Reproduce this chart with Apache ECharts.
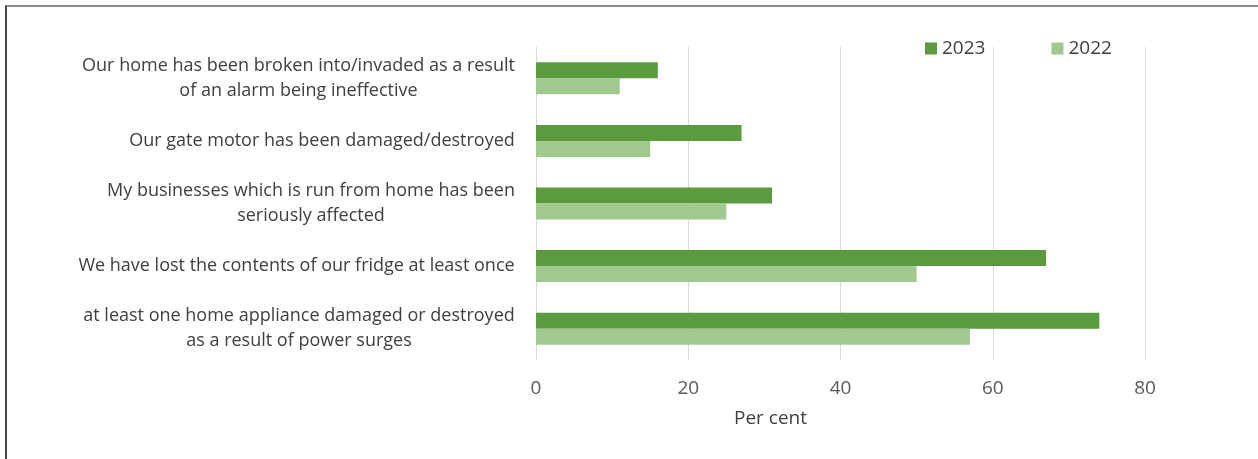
<!DOCTYPE html>
<html>
<head>
<meta charset="utf-8">
<script src="https://cdn.jsdelivr.net/npm/echarts@6/dist/echarts.min.js"></script>
<style>
html,body{margin:0;padding:0;background:#fff;}
#frame{position:absolute;left:5px;top:5px;width:1300px;height:500px;border-left:2px solid #444;border-top:2px solid #8a8a8a;}
#chart{position:absolute;left:0;top:0;width:1258px;height:459px;}
</style>
</head>
<body>
<div id="frame"></div>
<div id="chart"></div>
<script>
var categories = [
  "Our home has been broken into/invaded as a result\nof an alarm being ineffective",
  "Our gate motor has been damaged/destroyed",
  "My businesses which is run from home has been\nseriously affected",
  "We have lost the contents of our fridge at least once",
  "at least one home appliance damaged or destroyed\nas a result of power surges"
];
var seriesNames = ["2023", "2022"];
var values2023 = [16, 27, 31, 67, 74];
var values2022 = [11, 15, 25, 50, 57];
var xTicks = [0, 20, 40, 60, 80];
var xAxisTitle = "Per cent";

var FONT = "Open Sans";
var labelSize = 18;
var cv = document.createElement("canvas").getContext("2d");
cv.font = labelSize + "px '" + FONT + "'";
var rich = {};
var fmtMap = {};
categories.forEach(function (c, i) {
  var lines = c.split("\n");
  var w = 0;
  lines.forEach(function (l) { w = Math.max(w, cv.measureText(l).width); });
  rich["l" + i] = { width: Math.ceil(w) + 2, align: "center", fontFamily: FONT, fontSize: labelSize, color: "#404040", lineHeight: 25 };
  fmtMap[c] = lines.map(function (l) { return "{l" + i + "|" + l + "}"; }).join("\n");
});

var chart = echarts.init(document.getElementById("chart"), null, { renderer: "canvas" });
chart.setOption({
  backgroundColor: "transparent",
  animation: false,
  color: ["#5B9A3F", "#A1C98D"],
  legend: {
    data: seriesNames,
    left: 920,
    top: 34,
    itemWidth: 12,
    itemHeight: 12,
    itemGap: 66,
    icon: "rect",
    textStyle: { fontFamily: FONT, fontSize: 19, color: "#404040" }
  },
  grid: { left: 536, right: 113, top: 47, bottom: 99, containLabel: false },
  xAxis: {
    type: "value",
    min: 0,
    max: 80,
    interval: 20,
    axisLine: { show: false },
    axisTick: { show: false },
    splitLine: { show: true, lineStyle: { color: "#d9d9d9", width: 1 } },
    axisLabel: {
      margin: 19,
      fontFamily: FONT,
      fontSize: 19,
      color: "#595959",
      formatter: function (v) { return xTicks.indexOf(v) >= 0 ? String(v) : ""; }
    },
    name: xAxisTitle,
    nameLocation: "middle",
    nameGap: 49,
    nameTextStyle: { fontFamily: FONT, fontSize: 19, color: "#404040", padding: [0, 140, 0, 0] }
  },
  yAxis: {
    type: "category",
    inverse: true,
    data: categories,
    axisLine: { show: false },
    axisTick: { show: false },
    axisLabel: {
      margin: 20,
      formatter: function (v) { return fmtMap[v]; },
      rich: rich
    }
  },
  series: [
    { name: seriesNames[0], type: "bar", data: values2023, barWidth: 16, barGap: "0%", barCategoryGap: "49%" },
    { name: seriesNames[1], type: "bar", data: values2022, barWidth: 16, barGap: "0%", barCategoryGap: "49%" }
  ]
});
</script>
</body>
</html>
